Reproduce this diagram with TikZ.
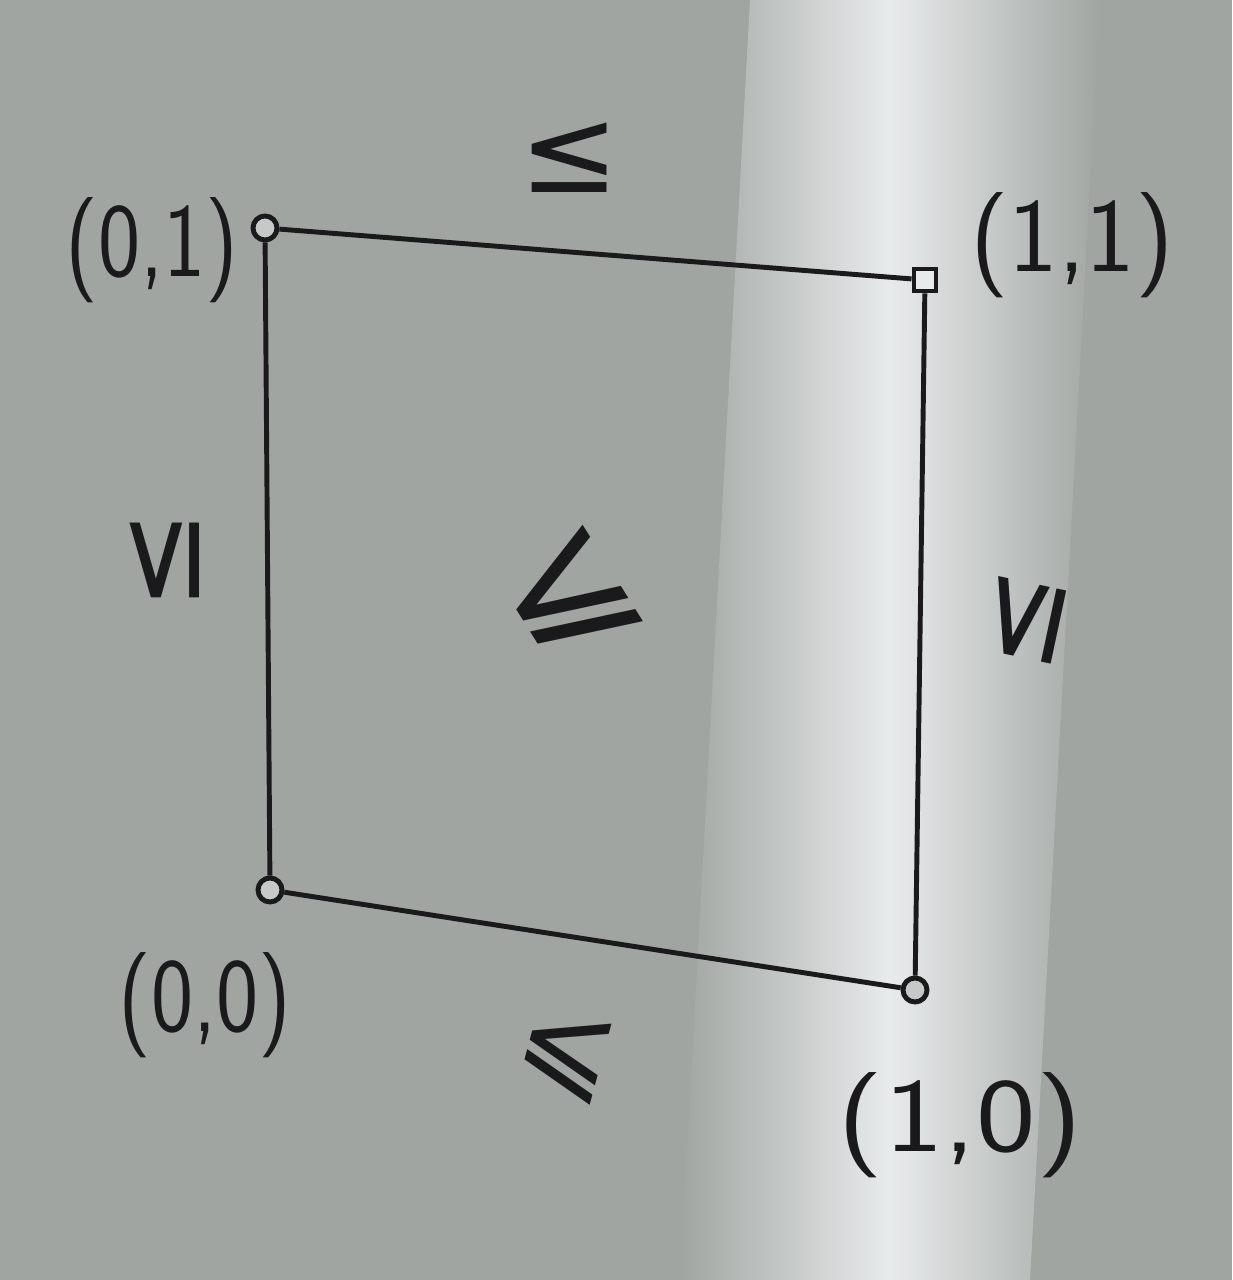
\documentclass[tikz,border=0pt]{standalone}
\usepackage{amsmath,amssymb}
\usepackage{xcolor}
\usepackage{fontspec}
\newfontfamily\relfont{DejaVu Sans}
\usetikzlibrary{positioning}
\definecolor{photobg}{RGB}{160,165,162}
\definecolor{streak}{RGB}{232,235,235}
\definecolor{ink}{RGB}{26,26,28}

\begin{document}
\begin{tikzpicture}[
  vtx/.style={draw=ink,circle,line width=1.4pt,minimum size=2.4mm,inner sep=0pt,fill=photobg!60!white},
  vsq/.style={draw=ink,rectangle,line width=1.4pt,minimum size=2.2mm,inner sep=0pt,fill=streak},
  edge/.style={draw=ink,line width=1.4pt},
  pt/.style={text=ink,font=\sffamily\fontsize{30}{36}\selectfont,inner sep=0pt},
  rel/.style={text=ink,font=\relfont\fontsize{34}{40}\selectfont,inner sep=0pt}
]
\useasboundingbox (0,0) rectangle (12.32,12.8);
\fill[photobg] (0,0) rectangle (12.32,12.8);
\shade[left color=photobg,right color=photobg,middle color=streak]
  (7.5,12.8) -- (11.0,12.8) -- (10.3,0) -- (6.8,0) -- cycle;

\node[vtx] (v01) at (2.65,10.52) {};
\node[vsq] (v11) at (9.25,10.00) {};
\node[vtx] (v00) at (2.70,3.90) {};
\node[vtx] (v10) at (9.15,2.90) {};

\draw[edge] (v01) -- (v11);
\draw[edge] (v11) -- (v10);
\draw[edge] (v00) -- (v10);
\draw[edge] (v01) -- (v00);

\node[pt,xscale=0.85] (l01) at (1.52,10.30) {(0,1)};
\node[pt] (l11) at (10.72,10.35) {(1,1)};
\node[pt,xscale=0.85] (l00) at (2.05,2.75) {(0,0)};
\node[pt,xscale=1.2] (l10) at (9.60,1.55) {(1,0)};

\node[rel] (etop) at (5.70,11.22) {≤};
\node[rel,rotate=90] (eleft) at (1.65,7.20) {≤};
\node[rel,rotate=78] (eright) at (10.25,6.60) {≤};
\node[rel,rotate=-15] (ebot) at (5.65,2.25) {⩽};
\node[rel,rotate=32,font=\relfont\fontsize{46}{54}\selectfont] (emid) at (5.70,6.80) {⩽};
\end{tikzpicture}
\end{document}
